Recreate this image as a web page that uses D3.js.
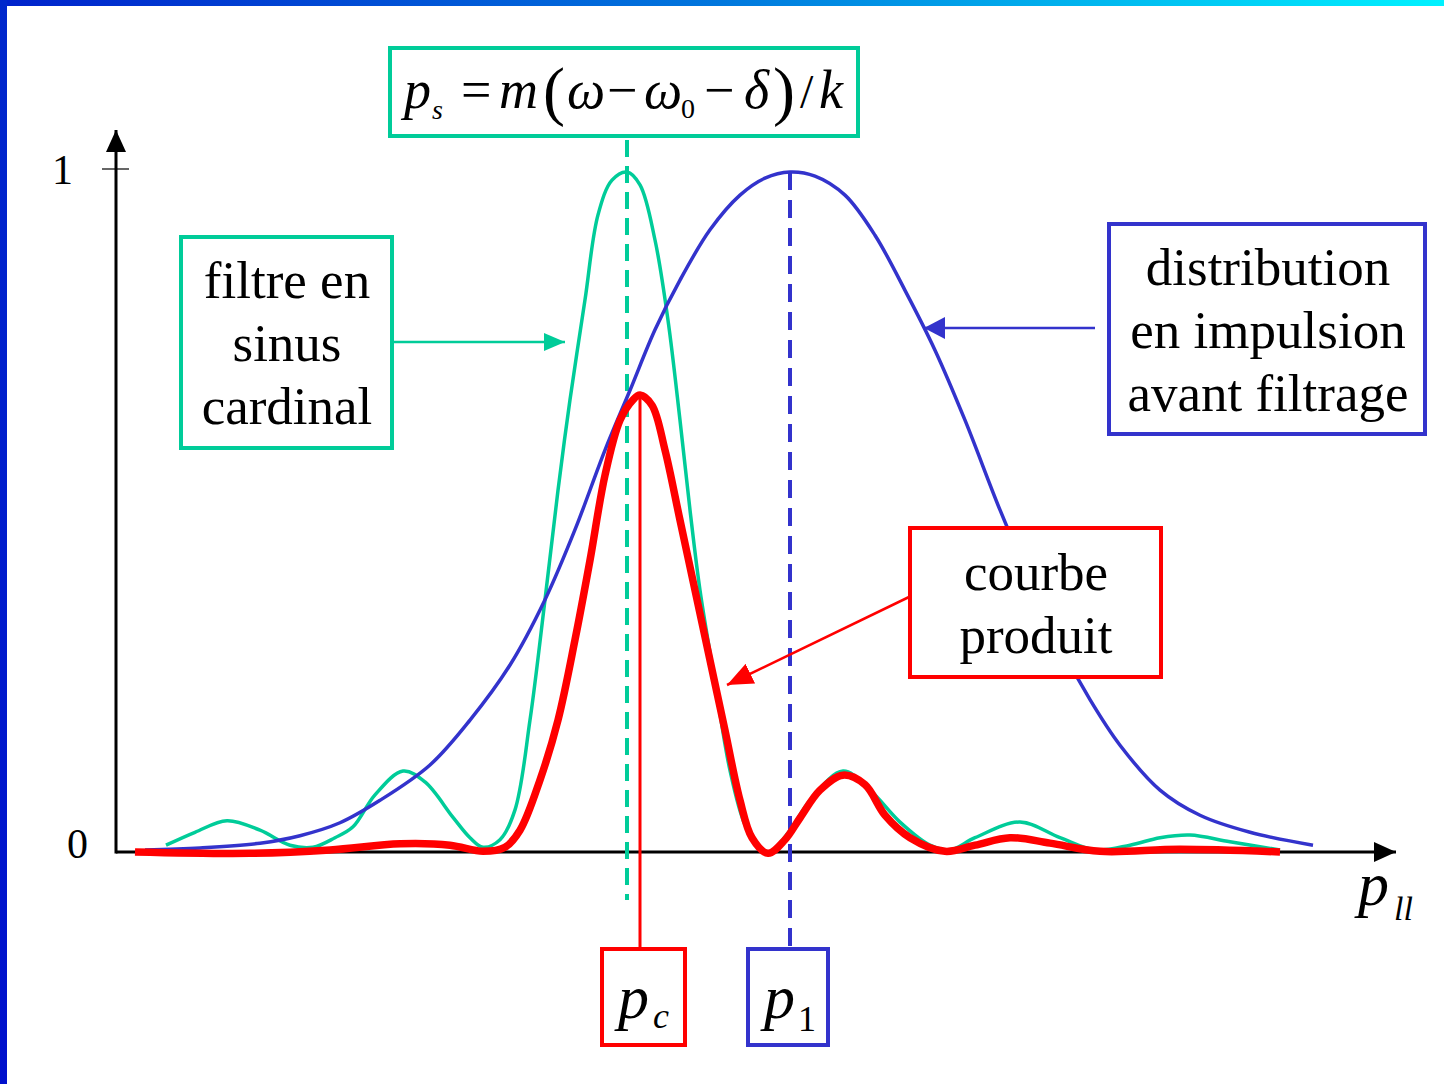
<!DOCTYPE html>
<html><head><meta charset="utf-8">
<script src="https://cdn.jsdelivr.net/npm/d3@7"></script>
<style>html,body{margin:0;padding:0;background:#fff;}svg{display:block;}</style>
</head><body>
<svg id="c" width="1444" height="1084"></svg>
<script>
// ---- data (x in arbitrary momentum units, y normalised 0..1) ----
const sincX = [5.0,7.9,11.1,14.4,17.4,19.7,21.9,23.7,25.9,28.7,30.9,33.7,35.4,36.7,38.4,39.9,41.4,42.9,44.2,45.4,46.9,48.2,49.6,51.1,52.4,53.9,55.2,56.4,57.4,58.4,59.9,61.4,62.9,64.4,65.4,67.4,69.4,72.7,75.4,78.4,81.4,83.4,85.9,90.4,94.4,97.9,101.4,104.4,107.4,111.4,116.4];
const sincY = [0.010,0.029,0.046,0.032,0.010,0.007,0.021,0.037,0.084,0.119,0.103,0.051,0.021,0.007,0.018,0.062,0.194,0.371,0.532,0.665,0.812,0.937,0.988,1.0,0.981,0.900,0.782,0.635,0.503,0.385,0.25,0.12,0.04,0.006,0.0,0.032,0.076,0.119,0.091,0.044,0.010,0.003,0.021,0.044,0.021,0.003,0.010,0.021,0.025,0.015,0.003];
const distX = [2.9,8.4,14.4,18.4,22.4,26.4,31.4,35.4,39.4,42.9,45.9,48.9,51.4,53.9,56.4,59.4,62.4,64.9,67.4,69.9,72.9,75.9,78.9,81.9,84.9,88.4,91.4,94.4,97.4,100.4,104.4,108.4,113.4,119.7];
const distY = [0.003,0.006,0.013,0.024,0.043,0.076,0.128,0.194,0.275,0.371,0.474,0.591,0.679,0.768,0.841,0.915,0.966,0.991,1.0,0.994,0.966,0.907,0.826,0.738,0.635,0.503,0.40,0.304,0.224,0.157,0.091,0.054,0.029,0.010];
const prodX = [1.9,13.4,21.4,28.4,33.4,36.7,38.9,40.4,42.4,44.2,45.9,47.4,48.9,50.4,51.7,52.4,53.6,54.9,56.4,57.9,59.4,60.9,62.4,63.6,65.2,66.9,68.4,70.4,72.7,74.9,76.9,79.4,82.9,85.9,89.4,93.4,98.4,106.4,116.4];
const prodY = [0.0,-0.002,0.003,0.012,0.010,0.001,0.007,0.032,0.106,0.194,0.312,0.429,0.554,0.635,0.665,0.672,0.657,0.591,0.488,0.385,0.282,0.179,0.076,0.021,-0.002,0.018,0.05,0.091,0.113,0.099,0.054,0.021,0.001,0.010,0.021,0.013,0.001,0.004,0.0];
const pS = 51.1, pC = 52.4, p1 = 67.4;
const yTicks = [0, 1];
const boxTexts = {
  filtre: ["filtre en","sinus","cardinal"],
  dist: ["distribution","en impulsion","avant filtrage"],
  prod: ["courbe","produit"]
};

const GREEN = "#00cc99", BLUE = "#3333cc", RED = "#ff0000";
const FONT = "'Liberation Serif','Times New Roman',serif";

const svg = d3.select("#c");
const defs = svg.append("defs");
const gTop = defs.append("linearGradient").attr("id","gtop").attr("x1","0").attr("x2","1").attr("y1","0").attr("y2","0");
gTop.append("stop").attr("offset","0").attr("stop-color","#0022cc");
gTop.append("stop").attr("offset","0.5").attr("stop-color","#0077dd");
gTop.append("stop").attr("offset","1").attr("stop-color","#00f2ff");
const gLeft = defs.append("linearGradient").attr("id","gleft").attr("x1","0").attr("x2","0").attr("y1","0").attr("y2","1");
gLeft.append("stop").attr("offset","0").attr("stop-color","#0028cc");
gLeft.append("stop").attr("offset","1").attr("stop-color","#0010cc");

svg.append("rect").attr("x",0).attr("y",0).attr("width",1444).attr("height",6).attr("fill","url(#gtop)");
svg.append("rect").attr("x",0).attr("y",0).attr("width",7).attr("height",1084).attr("fill","url(#gleft)");

const x = d3.scaleLinear().domain([0,128]).range([116,1396]);
const y = d3.scaleLinear().domain([0,1]).range([852,172]);

function marker(id, color, len, half){
  defs.append("marker").attr("id",id).attr("markerUnits","userSpaceOnUse")
    .attr("viewBox",`0 0 ${len} ${half*2}`).attr("refX",len).attr("refY",half)
    .attr("markerWidth",len).attr("markerHeight",half*2).attr("orient","auto")
    .append("path").attr("d",`M0,0L${len},${half}L0,${half*2}Z`).attr("fill",color);
}
marker("mAxis","#000",22,10);
marker("mGreen",GREEN,21,9);
marker("mBlue",BLUE,21,11);
marker("mRed",RED,26,11);

// axes
svg.append("line").attr("x1",x(0)).attr("x2",x(128)).attr("y1",y(0)).attr("y2",y(0))
  .attr("stroke","#000").attr("stroke-width",3).attr("marker-end","url(#mAxis)");
svg.append("line").attr("x1",x(0)).attr("x2",x(0)).attr("y1",y(0)+1.5).attr("y2",130)
  .attr("stroke","#000").attr("stroke-width",3).attr("marker-end","url(#mAxis)");
svg.append("line").attr("x1",102).attr("x2",129).attr("y1",y(1)-3).attr("y2",y(1)-3)
  .attr("stroke","#000").attr("stroke-width",1.2);
svg.selectAll("text.tick").data(yTicks).enter().append("text").attr("class","tick")
  .attr("x", d=> d===1 ? 73 : 88).attr("y", d=> y(d)+ (d===1? 12 : 6))
  .attr("text-anchor","end").attr("font-family",FONT).attr("font-size",42).text(d=>d);

// dashed verticals
svg.append("line").attr("x1",x(pS)).attr("x2",x(pS)).attr("y1",140).attr("y2",900)
  .attr("stroke",GREEN).attr("stroke-width",4).attr("stroke-dasharray","17,9");
svg.append("line").attr("x1",x(p1)).attr("x2",x(p1)).attr("y1",y(1)).attr("y2",948)
  .attr("stroke",BLUE).attr("stroke-width",4).attr("stroke-dasharray","18,10");

const line = d3.line().x(d=>x(d[0])).y(d=>y(d[1])).curve(d3.curveCatmullRom.alpha(0.5));
svg.append("path").attr("d",line(d3.zip(sincX,sincY))).attr("fill","none").attr("stroke",GREEN).attr("stroke-width",3.5);
svg.append("path").attr("d",line(d3.zip(distX,distY))).attr("fill","none").attr("stroke",BLUE).attr("stroke-width",3.5);
svg.append("path").attr("d",line(d3.zip(prodX,prodY))).attr("fill","none").attr("stroke",RED).attr("stroke-width",7.5).attr("stroke-linejoin","round");

// red vertical from product peak to p_c box
svg.append("line").attr("x1",x(pC)).attr("x2",x(pC)).attr("y1",y(0.672)).attr("y2",948)
  .attr("stroke",RED).attr("stroke-width",3);

// boxes
function box(x0,y0,w,h,color){
  svg.append("rect").attr("x",x0).attr("y",y0).attr("width",w).attr("height",h)
    .attr("fill","#fff").attr("stroke",color).attr("stroke-width",4);
}
function lines(arr, cx, y0, dy){
  arr.forEach((t,i)=>svg.append("text").attr("x",cx).attr("y",y0+i*dy).attr("text-anchor","middle")
    .attr("font-family",FONT).attr("font-size",53).attr("fill","#000").text(t));
}
box(390,48,468,88,GREEN);
box(181,237,211,211,GREEN);
lines(boxTexts.filtre, 287, 298, 63);
box(1109,224,316,210,BLUE);
lines(boxTexts.dist, 1268, 285, 63);
box(910,528,251,149,RED);
lines(boxTexts.prod, 1036, 590, 63);
box(602,949,83,96,RED);
box(748,949,80,96,BLUE);

// arrows
svg.append("line").attr("x1",393).attr("y1",342).attr("x2",565).attr("y2",342).attr("stroke",GREEN).attr("stroke-width",2.5).attr("marker-end","url(#mGreen)");
svg.append("line").attr("x1",1095).attr("y1",328).attr("x2",924).attr("y2",328).attr("stroke",BLUE).attr("stroke-width",2.5).attr("marker-end","url(#mBlue)");
svg.append("line").attr("x1",909).attr("y1",597).attr("x2",727).attr("y2",685).attr("stroke",RED).attr("stroke-width",2.5).attr("marker-end","url(#mRed)");

// formula
function glyph(t,xp,yp,size,italic){
  svg.append("text").attr("x",xp).attr("y",yp).attr("font-family",FONT).attr("font-size",size)
    .attr("font-style",italic?"italic":"normal").attr("fill","#000").text(t);
}
const fb = 108;
glyph("p",404,fb,54,true);
glyph("s",432,fb+11,28,true);
glyph("=",461,fb,54,false);
glyph("m",499,fb,54,true);
glyph("(",543,fb+5,66,false);
glyph("\u03C9",567,fb,54,true);
glyph("\u2212",607,fb,54,false);
glyph("\u03C9",644,fb,54,true);
glyph("0",681,fb+10,28,false);
glyph("\u2212",704,fb,54,false);
glyph("\u03B4",744,fb,54,true);
glyph(")",773,fb+5,66,false);
glyph("/",800,fb,48,false);
glyph("k",819,fb,54,true);

// p_c, p_1, p_ll
glyph("p",618,1018,62,true);
glyph("c",653,1028,36,true);
glyph("p",764,1018,62,true);
glyph("1",798,1031,36,false);
glyph("p",1358,905,62,true);
glyph("ll",1394,920,34,true);
</script>
</body></html>
